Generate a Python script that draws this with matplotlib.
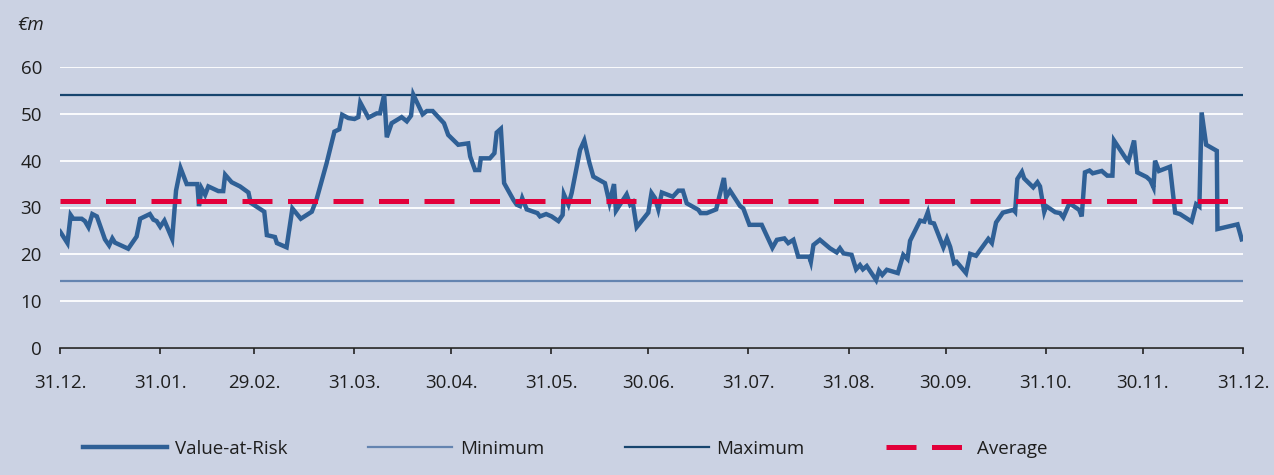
import matplotlib
matplotlib.use("Agg")
import matplotlib.pyplot as plt

plt.rcParams["font.family"] = ["Open Sans", "DejaVu Sans"]

# days since 31.12. of the previous year, value-at-risk in EUR m
var_days = [0, 2.3, 3.3, 4.1, 6.7, 7.7, 8.8, 10.0, 11.4, 13.9, 15.2, 16.2, 17.0, 21.1, 23.7, 24.8,
            27.8, 28.9, 29.9, 31.0, 32.3, 34.7, 35.9, 37.3, 39.2, 42.5, 43.0, 43.8, 44.9, 45.9,
            49.0, 50.5, 51.1, 53.1, 55.7, 58.3, 59.0, 63.2, 64.0, 66.5, 67.1, 70.1, 71.9, 74.5,
            77.9, 79.4, 82.5, 84.9, 86.4, 87.3, 89.2, 91.1, 92.3, 92.9, 95.4, 98.0, 99.0, 100.3,
            101.1, 102.6, 105.7, 107.3, 108.6, 109.3, 112.2, 113.5, 115.3, 118.8, 120.1, 123.2,
            126.3, 126.9, 128.4, 129.7, 130.2, 133.0, 134.4, 135.1, 136.4, 137.4, 140.3, 141.3,
            142.3, 143.0, 144.4, 147.7, 148.5, 150.4, 152.1, 154.2, 155.5, 155.9, 157.3, 158.3,
            160.9, 162.2, 163.8, 165.0, 168.6, 170.0, 171.4, 172.0, 175.3, 176.4, 177.2, 178.4,
            182.0, 183.0, 184.1, 185.1, 186.2, 189.6, 191.3, 192.7, 193.9, 197.5, 198.2, 200.1,
            203.0, 205.4, 206.1, 207.3, 210.4, 211.4, 213.3, 217.1, 218.7, 220.4, 221.8, 224.1,
            225.3, 226.9, 228.4, 231.8, 232.3, 233.1, 235.1, 238.2, 240.3, 241.3, 242.4, 244.9,
            246.3, 247.5, 248.4, 249.6, 252.5, 253.4, 254.4, 255.8, 259.2, 260.9, 262.2, 263.0,
            266.1, 267.4, 268.5, 269.2, 270.4, 273.3, 274.4, 275.4, 276.6, 277.4, 280.3, 281.6,
            283.4, 287.2, 288.3, 289.6, 291.7, 295.0, 295.5, 296.2, 297.6, 298.3, 301.1, 302.4,
            303.2, 304.5, 305.1, 307.9, 309.4, 310.4, 312.3, 315.3, 316.1, 317.1, 318.5, 319.5,
            322.3, 324.0, 325.6, 326.1, 330.2, 330.5, 332.3, 333.3, 336.2, 337.3, 338.3, 338.8,
            340.0, 343.4, 345.0, 346.5, 350.1, 351.5, 352.5, 353.2, 354.6, 357.9, 358.1, 364.3,
            365.6]
var_values = [24.9, 22.4, 28.4, 27.6, 27.6, 27.1, 25.8, 28.6, 28.1, 23.2, 21.9, 23.4, 22.5, 21.2, 23.8, 27.6,
              28.6, 27.4, 27.1, 25.9, 27.2, 23.3, 33.6, 38.4, 35.0, 35.0, 30.3, 34.1, 32.7, 34.5,
              33.5, 33.5, 37.0, 35.4, 34.5, 33.2, 31.0, 29.1, 24.1, 23.7, 22.4, 21.5, 29.8, 27.6,
              29.1, 31.8, 39.5, 46.2, 46.7, 49.8, 49.1, 48.9, 49.3, 52.4, 49.2, 50.1, 50.1, 54.1,
              45.0, 48.0, 49.3, 48.4, 49.6, 54.1, 49.9, 50.6, 50.6, 48.0, 45.5, 43.4,
              43.7, 40.9, 38.0, 38.0, 40.5, 40.5, 41.6, 46.0, 46.8, 35.2, 31.6, 30.6,
              30.3, 32.0, 29.6, 28.8, 28.1, 28.6, 28.1, 27.1, 28.4, 32.8, 30.6, 33.1,
              42.3, 44.3, 39.5, 36.6, 35.2, 31.0, 35.0, 29.3, 32.8, 30.6, 31.1, 25.8,
              28.9, 33.1, 32.0, 29.6, 33.2, 32.3, 33.6, 33.6, 30.9, 29.5, 28.8, 28.8,
              29.6, 36.3, 32.2, 33.6, 30.3, 29.8, 26.3, 26.3, 23.9, 21.4, 23.1, 23.4,
              22.4, 23.1, 19.5, 19.5, 18.4, 22.0, 23.1, 21.3, 20.4, 21.3, 20.2, 19.9,
              16.8, 17.7, 16.8, 17.5, 14.5, 16.5, 15.6, 16.7, 16.0, 19.9, 19.0, 22.9,
              27.2, 27.0, 29.0, 26.8, 26.6, 21.5, 23.4, 21.6, 18.1, 18.4, 16.0, 20.1,
              19.7, 23.3, 22.4, 26.8, 28.9, 29.5, 29.1, 36.1, 37.6, 36.2, 34.3, 35.4,
              34.5, 29.1, 30.3, 29.0, 28.8, 27.9, 30.9, 29.5, 28.1, 37.5, 37.9, 37.3,
              37.8, 36.8, 36.8, 44.3, 40.0, 39.8, 44.3, 37.5, 36.5, 35.8, 34.3, 40.0,
              37.8, 38.7, 28.9, 28.6, 27.0, 30.7, 30.2, 50.3, 43.4, 42.1, 25.4, 26.4,
              23.2]

var_min = 14.4
var_max = 54.1
var_avg = 31.3

tick_days = [0, 31, 60, 91, 121, 152, 182, 213, 244, 274, 305, 335, 366]
tick_labels = ["31.12.", "31.01.", "29.02.", "31.03.", "30.04.", "31.05.", "30.06.",
               "31.07.", "31.08.", "30.09.", "31.10.", "30.11.", "31.12."]

bg = "#cbd2e3"
txt = "#1e1e1e"

fig = plt.figure(figsize=(12.74, 4.75), dpi=100, facecolor=bg)
ax = fig.add_axes([60 / 1274, 1 - 348 / 475, 1183 / 1274, 281 / 475])
ax.set_facecolor(bg)

ax.set_xlim(0, 366)
ax.set_ylim(0, 60)
ax.set_yticks(range(0, 61, 10))
ax.yaxis.grid(True, color="white", lw=1.3)
ax.set_axisbelow(True)

l_var, = ax.plot(var_days, var_values, color="#2f6096", lw=3.2, solid_joinstyle="miter",
                 label="Value-at-Risk", zorder=4)
l_min = ax.axhline(var_min, color="#6484b0", lw=1.6, label="Minimum", zorder=3)
l_max = ax.axhline(var_max, color="#17456e", lw=1.6, label="Maximum", zorder=3)
l_avg = ax.axhline(var_avg, color="#e2003a", lw=3.6, dashes=(6, 3.1), label="Average", zorder=5)

for s in ["top", "right", "left"]:
    ax.spines[s].set_visible(False)
ax.spines["bottom"].set_color("#222222")
ax.spines["bottom"].set_linewidth(1.2)

ax.set_xticks(tick_days)
ax.set_xticklabels(tick_labels)
ax.tick_params(axis="x", length=4, width=1.2, color="#222222", pad=15, labelsize=13.5, labelcolor=txt)
ax.tick_params(axis="y", length=0, pad=13, labelsize=13.5, labelcolor=txt)

fig.text(17 / 1274, 1 - 25 / 475, "€m", style="italic", fontsize=13.5, color=txt, va="center")

fig.legend(handles=[l_var, l_min, l_max, l_avg], loc="center left",
           bbox_to_anchor=(83 / 1274, 1 - 449 / 475), ncol=4, frameon=False,
           fontsize=13.5, handlelength=4.5, handletextpad=0.4, columnspacing=4.3,
           borderpad=0, borderaxespad=0, labelcolor=txt)

fig.savefig("out.png", dpi=100, facecolor=bg)
